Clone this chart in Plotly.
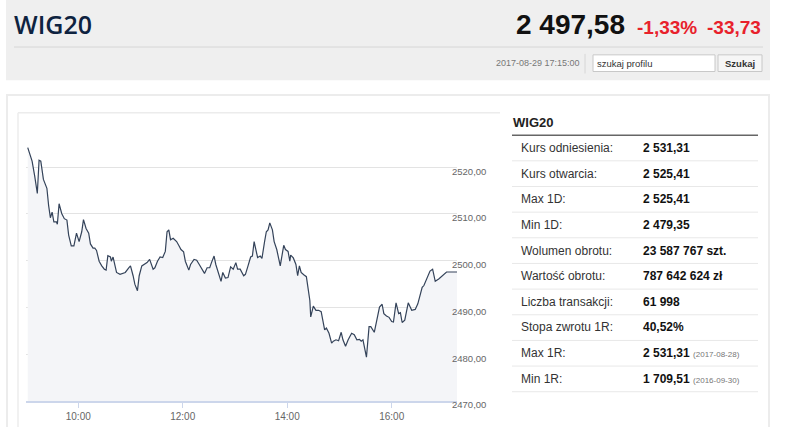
import pandas as pd
import plotly.graph_objects as go

# WIG20 intraday, 2017-08-29
times = [
    "09:02", "09:07", "09:10", "09:13", "09:15", "09:17", "09:20", "09:24", "09:26", "09:28",
    "09:30", "09:32", "09:35", "09:36", "09:38", "09:41", "09:44", "09:47", "09:49", "09:52",
    "09:55", "09:58", "10:01", "10:04", "10:06", "10:09", "10:12", "10:14", "10:17", "10:19",
    "10:21", "10:24", "10:27", "10:30", "10:32", "10:34", "10:37", "10:38", "10:40", "10:44",
    "10:48", "10:51", "10:54", "10:58", "11:00", "11:03", "11:05", "11:08", "11:10", "11:13",
    "11:16", "11:19", "11:22", "11:26", "11:28", "11:31", "11:34", "11:37", "11:40", "11:42",
    "11:44", "11:46", "11:49", "11:53", "11:56", "11:58", "12:01", "12:03", "12:07", "12:09",
    "12:13", "12:16", "12:19", "12:22", "12:25", "12:28", "12:31", "12:33", "12:36", "12:38",
    "12:41", "12:44", "12:46", "12:49", "12:52", "12:55", "12:58", "13:01", "13:03", "13:06",
    "13:10", "13:12", "13:15", "13:18", "13:20", "13:22", "13:24", "13:26", "13:29", "13:31",
    "13:34", "13:36", "13:38", "13:40", "13:43", "13:45", "13:48", "13:52", "13:56", "13:58",
    "14:01", "14:03", "14:04", "14:07", "14:10", "14:12", "14:14", "14:16", "14:19", "14:22",
    "14:26", "14:27", "14:30", "14:33", "14:36", "14:39", "14:43", "14:45", "14:48", "14:51",
    "14:53", "14:56", "14:59", "15:02", "15:04", "15:07", "15:10", "15:14", "15:17", "15:20",
    "15:23", "15:25", "15:27", "15:29", "15:31", "15:34", "15:36", "15:40", "15:42", "15:46",
    "15:49", "15:51", "15:54", "15:57", "16:00", "16:02", "16:05", "16:08", "16:10", "16:12",
    "16:15", "16:17", "16:19", "16:23", "16:27", "16:30", "16:32", "16:35", "16:37", "16:40",
    "16:42", "16:44", "16:47", "16:50", "16:54", "16:58", "17:03", "17:15",
]
values = [
    2524.2, 2521.3, 2518.1, 2514.4, 2521.5, 2521.3, 2517.4, 2515.5, 2511.8, 2509.2,
    2510.4, 2508.3, 2508.3, 2507.8, 2512.2, 2510.1, 2509.0, 2508.7, 2505.5, 2503.2,
    2503.2, 2505.9, 2504.1, 2506.2, 2508.8, 2506.9, 2505.9, 2503.6, 2502.7, 2502.7,
    2502.2, 2499.9, 2498.9, 2498.2, 2498.0, 2501.1, 2500.8, 2499.9, 2500.8, 2497.5,
    2497.1, 2497.3, 2497.5, 2498.5, 2498.9, 2496.8, 2495.0, 2493.6, 2496.8, 2498.9,
    2499.2, 2499.6, 2500.3, 2498.2, 2498.5, 2499.9, 2500.8, 2500.7, 2502.0, 2506.2,
    2506.6, 2504.5, 2504.8, 2504.1, 2503.1, 2502.4, 2501.9, 2499.9, 2498.0, 2499.2,
    2500.3, 2500.1, 2499.2, 2498.2, 2497.3, 2498.5, 2498.5, 2499.6, 2501.0, 2499.2,
    2497.1, 2495.6, 2497.5, 2496.3, 2496.4, 2498.7, 2498.2, 2499.6, 2498.2, 2498.2,
    2496.8, 2497.1, 2498.9, 2500.8, 2501.0, 2504.1, 2502.4, 2500.7, 2501.0, 2500.5,
    2504.1, 2506.2, 2506.6, 2508.1, 2506.6, 2504.1, 2502.4, 2498.9, 2503.3, 2502.4,
    2502.0, 2499.9, 2501.2, 2500.6, 2499.2, 2496.8, 2498.9, 2497.5, 2497.0, 2496.6,
    2491.5, 2488.0, 2490.3, 2489.4, 2489.4, 2489.1, 2485.2, 2485.6, 2484.5, 2482.4,
    2482.8, 2483.1, 2482.9, 2484.7, 2483.1, 2481.7, 2483.1, 2484.5, 2484.2, 2483.1,
    2483.2, 2482.8, 2483.1, 2481.2, 2479.4, 2485.9, 2485.9, 2484.7, 2486.8, 2490.1,
    2490.7, 2488.7, 2488.2, 2487.9, 2487.0, 2486.9, 2491.0, 2488.7, 2488.9, 2486.8,
    2487.3, 2489.1, 2491.0, 2489.4, 2489.6, 2490.8, 2492.2, 2494.3, 2494.7, 2496.1,
    2497.1, 2497.8, 2498.2, 2495.6, 2496.1, 2496.8, 2497.6, 2497.6,
]

y_ticks = [2470, 2480, 2490, 2500, 2510, 2520, 2530]
y_ticktext = ["2470,00", "2480,00", "2490,00", "2500,00", "2510,00", "2520,00", ""]

table_labels = ["Kurs odniesienia:", "Kurs otwarcia:", "Max 1D:", "Min 1D:",
                "Wolumen obrotu:", "Wartość obrotu:", "Liczba transakcji:",
                "Stopa zwrotu 1R:", "Max 1R:", "Min 1R:"]
table_values = ["2 531,31", "2 525,41", "2 525,41", "2 479,35", "23 587 767 szt.",
                "787 642 624 zł", "61 998", "40,52%", "2 531,31", "1 709,51"]
table_notes = ["", "", "", "", "", "", "", "", "(2017-08-28)", "(2016-09-30)"]

day = "2017-08-29"
x = pd.to_datetime([day + " " + t for t in times])

W, H = 786, 436
def px(v): return v / W
def py(v): return 1 - v / H

fig = go.Figure()
fig.add_trace(go.Scatter(
    x=x, y=values, mode="lines",
    line=dict(color="#34435a", width=1.2),
    fill="tozeroy", fillcolor="#f4f5f8",
    hoverinfo="skip", showlegend=False,
))

shapes = []
def rect(x0, y0, x1, y1, fill, line=None, lw=1):
    shapes.append(dict(type="rect", xref="paper", yref="paper", layer="below",
                       x0=px(x0), x1=px(x1), y0=py(y1), y1=py(y0),
                       fillcolor=fill, line=dict(color=line or fill, width=lw if line else 0)))
def hline(x0, x1, y, color, lw=1):
    shapes.append(dict(type="line", xref="paper", yref="paper", layer="below",
                       x0=px(x0), x1=px(x1), y0=py(y), y1=py(y), line=dict(color=color, width=lw)))
def vline(x_, y0, y1, color, lw=1):
    shapes.append(dict(type="line", xref="paper", yref="paper", layer="below",
                       x0=px(x_), x1=px(x_), y0=py(y0), y1=py(y1), line=dict(color=color, width=lw)))

# header block
rect(6, 0, 770, 82, "#efefef")
hline(14, 763, 48, "#d6d6d6")
vline(585, 55, 75, "#d6d6d6")
rect(593, 56, 715, 73, "#ffffff", "#c8c8c8")
rect(718, 56, 762, 73, "#f6f6f6", "#c8c8c8")
# panels
hline(6, 770, 97, "#ececec", 2)
vline(7, 97, 436, "#ececec", 2)
vline(769, 97, 436, "#ececec", 2)
hline(18, 500, 115, "#ececec", 1.5)
vline(18, 115, 436, "#ececec", 1.5)
# table rules
hline(512, 758, 138, "#666666", 1.5)

ann = []
def text(x_, y_, s, size, color, family="Liberation Sans, Arial", anchor="left", weight=None):
    f = dict(size=size, color=color, family=family)
    if weight:
        f["weight"] = weight
    ann.append(dict(x=px(x_), y=py(y_), xref="paper", yref="paper", text=s, showarrow=False,
                    xanchor=anchor, yanchor="middle", font=f))

text(12, 24, "WIG20", 25, "#0e2340", family="Open Sans", weight=600)
text(514, 25, "<b>2 497,58</b>", 28, "#111111")
text(635, 28, "<b>-1,33%</b>", 19, "#e8212b")
text(705, 28, "<b>-33,73</b>", 19, "#e8212b")
text(494, 64, "2017-08-29 17:15:00", 9, "#777777")
text(595, 64.5, "szukaj profilu", 9.5, "#333333")
text(740, 65, "<b>Szukaj</b>", 9.5, "#333333", anchor="center")

text(511, 125, "<b>WIG20</b>", 13, "#222222")
row_y0, row_h = 151, 26.2
for i, (lab, val, note) in enumerate(zip(table_labels, table_values, table_notes)):
    yy = row_y0 + i * row_h
    text(519, yy, lab, 12, "#333333")
    s = "<b>" + val + "</b>"
    if note:
        s += " <span style='font-size:8px;color:#777777'>" + note + "</span>"
    text(641, yy, s, 12, "#111111")
    hline(512, 758, yy + 13.2, "#e8e8e8")

fig.update_layout(
    width=W, height=H,
    margin=dict(l=0, r=0, t=0, b=0),
    paper_bgcolor="white", plot_bgcolor="rgba(0,0,0,0)",
    separators=", ",
    shapes=shapes, annotations=ann,
    xaxis=dict(
        domain=[px(26), px(457)],
        type="date", range=[day + " 09:00", day + " 17:15"],
        tick0=day + " 10:00", dtick=2 * 3600 * 1000, tickformat="%H:%M",
        showgrid=False, zeroline=False,
        showline=True, linecolor="#ccd6eb", linewidth=2,
        ticks="outside", ticklen=5, tickcolor="#ccd6eb", tickwidth=1,
        tickfont=dict(size=10, color="#666666", family="Liberation Sans, Arial"),
        fixedrange=True,
    ),
    yaxis=dict(
        domain=[py(409.5), py(123)],
        range=[2470, 2530], side="right",
        tickvals=y_ticks, ticktext=y_ticktext,
        showgrid=True, gridcolor="#e3e3e3", gridwidth=1,
        zeroline=False, showline=False, ticks="",
        ticklabelstandoff=-6, ticklabelshift=4,
        tickfont=dict(size=9.5, color="#666666", family="Liberation Sans, Arial"),
        fixedrange=True,
    ),
)

# drop the default 8px body margin so the figure fills the window
fig.write_html("out.html", config={"displayModeBar": False},
               post_script="document.body.style.margin='0';")
